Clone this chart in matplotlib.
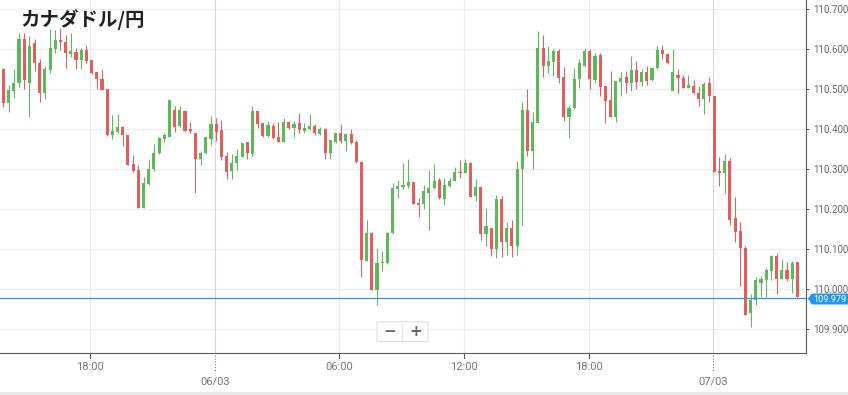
import matplotlib
matplotlib.use("Agg")
import matplotlib.pyplot as plt
from matplotlib.lines import Line2D
from matplotlib.patches import FancyBboxPatch, Rectangle, Polygon
import numpy as np

# ---------------- data (15-minute candles, CAD/JPY) ----------------
opens = [
    110.551, 110.465, 110.497, 110.515, 110.626, 110.515, 110.615, 110.565, 110.490, 110.548,
    110.600, 110.623, 110.617, 110.589, 110.594, 110.573, 110.598, 110.572, 110.542, 110.525,
    110.501, 110.386, 110.394, 110.405, 110.386, 110.312, 110.298, 110.204, 110.263, 110.300,
    110.340, 110.375, 110.382, 110.447, 110.408, 110.447, 110.400, 110.390, 110.327, 110.340,
    110.377, 110.413, 110.398, 110.333, 110.297, 110.317, 110.332, 110.367, 110.338, 110.446,
    110.415, 110.383, 110.408, 110.380, 110.369, 110.419, 110.403, 110.415, 110.397, 110.402,
    110.408, 110.388, 110.400, 110.342, 110.368, 110.390, 110.371, 110.388, 110.369, 110.319,
    110.072, 110.142, 109.999, 110.065, 110.065, 110.140, 110.250, 110.255, 110.258, 110.267,
    110.217, 110.213, 110.242, 110.254, 110.273, 110.225, 110.259, 110.272, 110.294, 110.292,
    110.317, 110.233, 110.255, 110.138, 110.153, 110.100, 110.225, 110.119, 110.153, 110.108,
    110.300, 110.448, 110.347, 110.417, 110.603, 110.559, 110.569, 110.596, 110.530, 110.432,
    110.453, 110.525, 110.558, 110.596, 110.523, 110.586, 110.507, 110.473, 110.430, 110.519,
    110.530, 110.517, 110.548, 110.519, 110.543, 110.522, 110.553, 110.598, 110.588, 110.497,
    110.536, 110.529, 110.504, 110.508, 110.490, 110.475, 110.515, 110.482, 110.296, 110.290,
    110.321, 110.178, 110.146, 110.102, 109.940, 109.973, 110.017, 110.023, 110.045, 110.083,
    110.027, 110.048, 110.027, 110.067,
]
highs = [
    110.553, 110.511, 110.550, 110.640, 110.640, 110.633, 110.625, 110.575, 110.558, 110.652,
    110.648, 110.653, 110.636, 110.641, 110.603, 110.603, 110.611, 110.573, 110.544, 110.550,
    110.502, 110.436, 110.438, 110.408, 110.386, 110.336, 110.311, 110.282, 110.325, 110.363,
    110.380, 110.392, 110.473, 110.458, 110.458, 110.447, 110.419, 110.390, 110.346, 110.382,
    110.433, 110.428, 110.423, 110.344, 110.338, 110.350, 110.365, 110.369, 110.458, 110.446,
    110.417, 110.420, 110.417, 110.419, 110.428, 110.422, 110.422, 110.440, 110.417, 110.438,
    110.413, 110.405, 110.403, 110.373, 110.392, 110.413, 110.389, 110.402, 110.373, 110.319,
    110.173, 110.144, 110.103, 110.097, 110.144, 110.266, 110.273, 110.317, 110.326, 110.269,
    110.228, 110.261, 110.298, 110.313, 110.278, 110.278, 110.278, 110.305, 110.323, 110.325,
    110.319, 110.275, 110.258, 110.203, 110.153, 110.236, 110.233, 110.168, 110.173, 110.322,
    110.468, 110.502, 110.444, 110.646, 110.636, 110.608, 110.600, 110.601, 110.555, 110.461,
    110.554, 110.575, 110.603, 110.600, 110.590, 110.590, 110.508, 110.546, 110.521, 110.543,
    110.546, 110.583, 110.571, 110.550, 110.558, 110.555, 110.608, 110.611, 110.590, 110.600,
    110.550, 110.536, 110.536, 110.523, 110.509, 110.519, 110.532, 110.483, 110.332, 110.338,
    110.329, 110.231, 110.169, 110.108, 109.988, 110.031, 110.033, 110.053, 110.087, 110.092,
    110.076, 110.069, 110.072, 110.067,
]
lows = [
    110.455, 110.444, 110.478, 110.507, 110.500, 110.432, 110.547, 110.469, 110.477, 110.542,
    110.590, 110.598, 110.553, 110.582, 110.550, 110.550, 110.567, 110.538, 110.501, 110.498,
    110.384, 110.375, 110.390, 110.358, 110.312, 110.294, 110.204, 110.204, 110.262, 110.297,
    110.338, 110.369, 110.380, 110.394, 110.407, 110.397, 110.390, 110.240, 110.312, 110.338,
    110.362, 110.370, 110.323, 110.276, 110.276, 110.298, 110.330, 110.326, 110.333, 110.403,
    110.380, 110.380, 110.375, 110.369, 110.369, 110.400, 110.380, 110.390, 110.390, 110.398,
    110.387, 110.387, 110.326, 110.326, 110.367, 110.367, 110.347, 110.363, 110.317, 110.032,
    110.072, 109.999, 109.961, 110.045, 110.063, 110.138, 110.229, 110.250, 110.254, 110.213,
    110.182, 110.200, 110.148, 110.252, 110.226, 110.211, 110.257, 110.270, 110.279, 110.290,
    110.232, 110.222, 110.123, 110.108, 110.083, 110.078, 110.082, 110.085, 110.081, 110.087,
    110.161, 110.333, 110.301, 110.417, 110.530, 110.542, 110.533, 110.517, 110.422, 110.378,
    110.451, 110.504, 110.557, 110.502, 110.517, 110.483, 110.417, 110.430, 110.419, 110.483,
    110.492, 110.497, 110.500, 110.508, 110.510, 110.520, 110.551, 110.577, 110.563, 110.495,
    110.490, 110.503, 110.503, 110.488, 110.459, 110.439, 110.469, 110.294, 110.258, 110.242,
    110.161, 110.119, 110.008, 109.936, 109.905, 109.960, 109.980, 109.980, 110.023, 109.988,
    110.026, 110.022, 109.990, 109.980,
]
closes = [
    110.465, 110.498, 110.515, 110.626, 110.523, 110.608, 110.565, 110.490, 110.550, 110.603,
    110.623, 110.617, 110.590, 110.596, 110.573, 110.598, 110.572, 110.540, 110.526, 110.498,
    110.386, 110.396, 110.405, 110.386, 110.312, 110.297, 110.204, 110.265, 110.301, 110.340,
    110.379, 110.386, 110.473, 110.407, 110.447, 110.397, 110.397, 110.327, 110.340, 110.380,
    110.413, 110.394, 110.330, 110.294, 110.317, 110.333, 110.365, 110.340, 110.446, 110.413,
    110.383, 110.411, 110.378, 110.369, 110.419, 110.403, 110.413, 110.398, 110.403, 110.408,
    110.390, 110.402, 110.342, 110.373, 110.390, 110.371, 110.388, 110.367, 110.319, 110.074,
    110.140, 109.999, 110.065, 110.069, 110.142, 110.253, 110.257, 110.261, 110.267, 110.213,
    110.210, 110.246, 110.254, 110.271, 110.228, 110.261, 110.271, 110.294, 110.292, 110.315,
    110.232, 110.255, 110.138, 110.158, 110.100, 110.225, 110.119, 110.153, 110.108, 110.300,
    110.448, 110.347, 110.418, 110.603, 110.559, 110.571, 110.596, 110.529, 110.432, 110.453,
    110.525, 110.565, 110.596, 110.525, 110.582, 110.507, 110.472, 110.430, 110.521, 110.527,
    110.517, 110.548, 110.519, 110.543, 110.521, 110.553, 110.598, 110.588, 110.565, 110.542,
    110.529, 110.504, 110.511, 110.490, 110.475, 110.514, 110.483, 110.294, 110.292, 110.321,
    110.173, 110.144, 110.104, 109.936, 109.973, 110.023, 110.025, 110.047, 110.082, 110.025,
    110.048, 110.025, 110.067, 109.980,
]
last_price = 109.979
price_ticks = [109.9, 110.0, 110.1, 110.2, 110.3, 110.4, 110.5, 110.6, 110.7]
time_tick_labels = ["18:00", "06/03", "06:00", "12:00", "18:00", "07/03"]
time_tick_is_date = [False, True, False, False, False, True]
title = "カナダドル/円"

# ---------------- layout ----------------
W, H = 848, 395
fig = plt.figure(figsize=(W / 100, H / 100), dpi=100)
ax_left, ax_right, ax_top, ax_bottom = 0, 806, 0, 353
ax = fig.add_axes([ax_left / W, 1 - ax_bottom / H, (ax_right - ax_left) / W, (ax_bottom - ax_top) / H])

UP = "#5db85a"
DOWN = "#e35d5d"
GRID = "#ececec"
GRID_DATE = "#d8d8d8"
AXIS = "#5a5a5a"

o = np.array(opens); h = np.array(highs); l = np.array(lows); c = np.array(closes)
n = len(o)
x = np.arange(n)
cols = np.where(c >= o, UP, DOWN)

# axes limits (candle spacing ~5.19 px)
ax.set_xlim(-0.655, 154.67)
ax.set_ylim(109.84075, 110.72325)

# grid
for p in price_ticks:
    ax.axhline(p, color=GRID, lw=0.8, zorder=0)

first_tick = 16.76
tick_pos = [first_tick + 24 * k for k in range(len(time_tick_labels))]
for tp, isd in zip(tick_pos, time_tick_is_date):
    ax.axvline(tp, color=GRID_DATE if isd else GRID, lw=0.8, zorder=0)

# candles
ax.vlines(x, l, h, colors=cols, lw=0.75, zorder=2)
body_bottom = np.minimum(o, c)
body_h = np.maximum(np.abs(c - o), 0.0025)
ax.bar(x, body_h, bottom=body_bottom, width=0.6, color=cols, edgecolor="none", zorder=3)

# last price line
ax.axhline(last_price, color="#3b8fd4", lw=0.9, zorder=4)

# spines
for s in ["left", "top"]:
    ax.spines[s].set_visible(False)
for s in ["right", "bottom"]:
    ax.spines[s].set_color(AXIS)
    ax.spines[s].set_linewidth(0.8)

# y ticks on the right
ax.yaxis.tick_right()
ax.set_yticks(price_ticks)
ax.set_yticklabels([f"{p:.3f}" for p in price_ticks])
ax.tick_params(axis="y", direction="out", length=2.5, width=0.7, color=AXIS,
               pad=3, labelsize=7, labelcolor="#666666")
for t in ax.get_yticklabels():
    t.set_fontfamily("Roboto")

# x ticks drawn manually
ax.set_xticks([])
xt = ax.get_xaxis_transform()
for tp, lab, isd in zip(tick_pos, time_tick_labels, time_tick_is_date):
    if isd:
        ax.add_line(Line2D([tp, tp], [-(355 - 353) / 353, -(372 - 353) / 353], transform=xt,
                           color="#777777", lw=0.8, ls=(0, (1, 1.6)), clip_on=False))
        ax.text(tp, -(381.7 - 353) / 353, lab, transform=xt, ha="center", va="center",
                fontsize=8, color="#777777", family="Roboto")
    else:
        ax.add_line(Line2D([tp, tp], [0, -(357.5 - 353) / 353], transform=xt,
                           color=AXIS, lw=0.8, clip_on=False))
        ax.text(tp, -(366.7 - 353) / 353, lab, transform=xt, ha="center", va="center",
                fontsize=8, color="#777777", family="Roboto")

# last price label box
def fx(px):
    return px / W

def fy(py):
    return 1 - py / H

box = FancyBboxPatch((fx(810.5), fy(304.5)), fx(848 - 810.5) + 0.01, (304.5 - 293.5) / H,
                     boxstyle="round,pad=0,rounding_size=0.004", transform=fig.transFigure,
                     facecolor="#2196f3", edgecolor="none", zorder=10)
fig.patches.append(box)
tri = Polygon([(fx(807.5), fy(298.6)), (fx(811), fy(295)), (fx(811), fy(302.5))], closed=True,
              transform=fig.transFigure, facecolor="#2196f3", edgecolor="none", zorder=10)
fig.patches.append(tri)
fig.text(fx(813), fy(299.3), f"{last_price:.3f}", ha="left", va="center", fontsize=6.6,
         color="white", family="Roboto", zorder=11)

# zoom buttons
btn = FancyBboxPatch((fx(377), fy(341.5)), fx(428 - 377), (341.5 - 321.8) / H,
                     boxstyle="round,pad=0,rounding_size=0.003", transform=fig.transFigure,
                     facecolor="white", edgecolor="#dddddd", lw=0.8, zorder=10)
fig.patches.append(btn)
fig.add_artist(Line2D([fx(402.3), fx(402.3)], [fy(324), fy(339.5)], transform=fig.transFigure,
                      color="#e6e6e6", lw=0.8, zorder=11))
fig.text(fx(389.3), fy(331.5), "−", ha="center", va="center", fontsize=11, weight="bold",
         color="#666666", family="DejaVu Sans", zorder=12)
fig.text(fx(415.7), fy(331.5), "+", ha="center", va="center", fontsize=11, weight="bold",
         color="#666666", family="DejaVu Sans", zorder=12)

# title
fig.text(fx(20), fy(20), title, ha="left", va="center", fontsize=14, weight="bold",
         color="#222222", family=["Noto Sans CJK JP", "DejaVu Sans"], zorder=12)

# bottom strip
fig.patches.append(Rectangle((0, 0), 1, 3.2 / H, transform=fig.transFigure,
                             facecolor="#e8e8e8", edgecolor="none", zorder=0))

fig.savefig("out.png", dpi=100)
